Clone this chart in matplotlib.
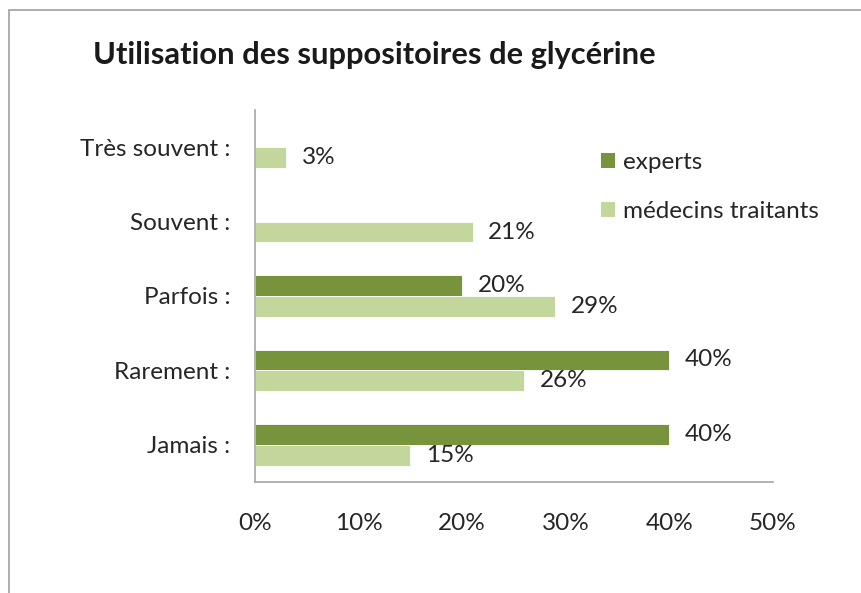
#bar chart of glycerine suppository use, experts vs GPs
import matplotlib.pyplot as plt
import matplotlib.patches as mpatches
import numpy as np

plt.rcParams['font.family'] = ['Lato', 'DejaVu Sans']

#data
categories = ['Très souvent :', 'Souvent :', 'Parfois :', 'Rarement :', 'Jamais :']
experts = [0, 0, 20, 40, 40]
medecins = [3, 21, 29, 26, 15]
series_names = ['experts', 'médecins traitants']
xticks = [0, 10, 20, 30, 40, 50]

dark_green = '#77933C'
light_green = '#C3D69B'
text_col = '#262626'
fs = 17.5

fig = plt.figure(figsize=(8.61, 5.93), dpi=100)
ax = fig.add_axes([255/861, 111/593, 518/861, 372/593])

y = np.arange(len(categories))[::-1]  # top category first
h = 0.28
bars_exp = ax.barh(y + h/2, experts, height=h, color=dark_green, edgecolor='white', linewidth=0.6)
bars_med = ax.barh(y - h/2, medecins, height=h, color=light_green, edgecolor='white', linewidth=0.6)

#data labels, experts with 0 are not labelled
for bar, v in zip(bars_exp, experts):
    if v > 0:
        ax.text(v + 1.5, bar.get_y() + bar.get_height()/2, '{}%'.format(v),
                va='center', ha='left', fontsize=fs, color=text_col)
for bar, v in zip(bars_med, medecins):
    ax.text(v + 1.5, bar.get_y() + bar.get_height()/2, '{}%'.format(v),
            va='center', ha='left', fontsize=fs, color=text_col)

ax.set_xlim(0, 50)
ax.set_ylim(-0.5, len(categories) - 0.5)
ax.set_xticks(xticks)
ax.set_xticklabels(['{}%'.format(t) for t in xticks], fontsize=fs, color=text_col)
ax.set_yticks(y)
ax.set_yticklabels(categories, fontsize=fs, color=text_col)
ax.tick_params(axis='both', length=0)
ax.tick_params(axis='x', pad=22)
ax.tick_params(axis='y', pad=18)

for s in ['top', 'right']:
    ax.spines[s].set_visible(False)
for s in ['left', 'bottom']:
    ax.spines[s].set_color('#a6a6a6')
    ax.spines[s].set_linewidth(1.2)

#title
fig.text(93/861, 1 - 55/593, 'Utilisation des suppositoires de glycérine',
         fontsize=22.2, fontweight='bold', color='#1a1a1a', ha='left', va='center')

#legend
handles = [mpatches.Rectangle((0, 0), 1, 1, facecolor=dark_green),
           mpatches.Rectangle((0, 0), 1, 1, facecolor=light_green)]
fig.legend(handles, series_names, loc='upper left', bbox_to_anchor=(579/861, 1 - 130/593),
           frameon=False, fontsize=fs, handlelength=0.6, handleheight=0.6,
           handletextpad=0.3, labelspacing=1.15, labelcolor=text_col)

#outer chart border
border = mpatches.Rectangle((9/861, -0.1), 1.1, 1 - 10/593 + 0.1, transform=fig.transFigure,
                            fill=False, edgecolor='#a0a0a0', linewidth=1.2, clip_on=False)
fig.patches.append(border)

fig.savefig('out.png', dpi=100)
